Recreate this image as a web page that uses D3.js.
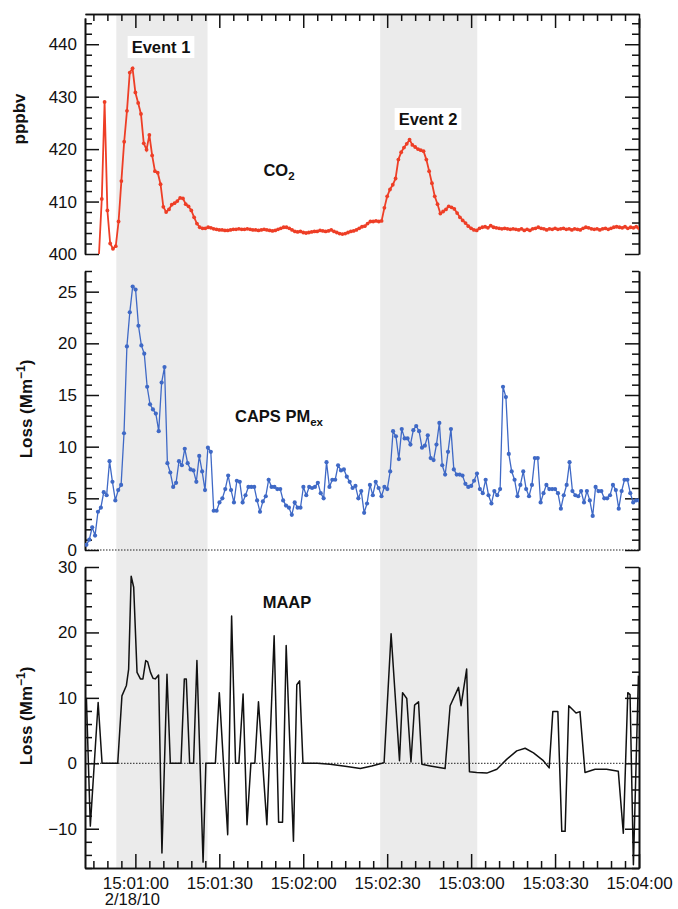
<!DOCTYPE html>
<html>
<head>
<meta charset="utf-8">
<script src="https://cdn.jsdelivr.net/npm/d3@7"></script>
<style>
    body { margin: 0; background: #fff; }
    text { font-family: "Liberation Sans", Arial, Helvetica, sans-serif; }
</style>
</head>
<body>
<div id="chart"></div>
<script>
// seconds after 15:00:00 on 2/18/10
const timeStart = 42;
const timeEnd = 240;
const majorTickSec = [60, 90, 120, 150, 180, 210, 240];
const eventSpans = [[53.2, 85.8, "Event 1"], [147.5, 182.2, "Event 2"]];

// CO2, 1 Hz samples
const co2Start = 47;
const co2Step = 1;
const co2 = [
    400, 410.5, 429, 408.3, 402, 401, 401.5, 406.2, 413.9, 421.4,
    427.3, 434.6, 435.4, 430.8, 428.8, 426.7, 421.1, 419.9, 422.7, 418.8,
    415.8, 415.5, 413.3, 409, 408, 408.5, 409.4, 409.7, 410.1, 410.7,
    410.6, 409.5, 409.1, 408.3, 407, 405.8, 405.1, 404.9, 404.9, 405.1,
    405.0, 404.8, 404.7, 404.6, 404.6, 404.5, 404.5, 404.6, 404.7, 404.7,
    404.8, 404.7, 404.7, 404.8, 404.7, 404.6, 404.6, 404.5, 404.6, 404.7,
    404.6, 404.5, 404.4, 404.5, 404.7, 404.9, 405.1, 405.1, 404.9, 404.6,
    404.3, 404.2, 404.3, 404.1, 404.0, 404.1, 404.2, 404.3, 404.3, 404.5,
    404.4, 404.3, 404.4, 404.6, 404.3, 404.1, 403.9, 403.8, 403.9, 404.1,
    404.3, 404.4, 404.6, 404.9, 405.2, 405.3, 405.8, 406.2, 406.2, 406.3,
    406.2, 406.3, 408.8, 411, 412.3, 413.2, 414.4, 418, 419.4, 420.3,
    421.0, 421.8, 420.8, 420.4, 420.0, 419.8, 419.6, 418, 415.8, 413.5,
    411, 409.5, 407.7, 408.1, 408.5, 409.1, 408.9, 408.6, 407.8, 407,
    406.4, 405.9, 405.3, 404.9, 404.6, 404.5, 404.9, 405.1, 405.2, 405.0,
    405.4, 405.1, 405.0, 404.9, 404.8, 404.9, 404.8, 404.7, 404.8, 404.7,
    404.6, 404.8, 404.5, 404.7, 404.5, 404.8, 404.9, 405.1, 404.9, 404.8,
    404.6, 404.8, 404.7, 404.9, 404.7, 404.8, 404.9, 404.7, 404.8, 404.6,
    404.8, 404.7, 404.6, 404.9, 405.1, 405.0, 404.8, 404.7, 404.8, 404.6,
    404.8, 404.9, 404.7, 404.9, 405.1, 405.2, 405.1, 405.0, 405.2, 404.9,
    405.1, 405.0, 405.2, 404.9
];

// CAPS PMex extinction loss (Mm-1)
const capsStart = 42.5;
const capsStep = 1.034;
const caps = [
    0.5, 1.0, 2.2, 1.4, 3.7, 4.1, 5.6, 5.3, 8.6, 6.6,
    4.8, 5.8, 6.3, 11.3, 19.7, 23, 25.5, 25.2, 21.7, 19.8,
    19, 15.8, 14.1, 13.6, 13.2, 11.5, 16.2, 17.7, 8.4, 7.5,
    6.1, 6.5, 8.6, 8.2, 9.8, 8.4, 7.8, 7.7, 6.6, 9.1,
    7.6, 5.8, 9.9, 9.5, 3.8, 3.8, 4.6, 5.0, 5.9, 7.2,
    5.8, 4.6, 6.7, 6.6, 4.6, 5.3, 6.1, 6.1, 6.1, 4.8,
    3.7, 4.7, 5.2, 6.8, 6.1, 6.1, 5.9, 5.9, 4.8, 4.3,
    4.1, 3.4, 4.6, 4.1, 4.1, 6.1, 5.3, 6.1, 6.0, 6.1,
    6.5, 5.5, 5.0, 8.5, 6.1, 6.8, 6.8, 8.2,
    7.7, 7.8, 7.1, 6.6, 6.0, 6.2, 5.0, 5.7, 3.6, 4.5,
    6.3, 5.3, 6.6, 6.0, 5.2, 6.1, 5.9, 7.6, 11.5, 11.0,
    8.8, 11.7, 10.8, 10.8, 10.2, 11.6, 12.0, 11.5, 9.9, 10.1,
    11.1, 8.9, 8.7, 10.2, 12.3, 8.2, 7.3, 9.5, 11.7, 7.8,
    7.3, 7.3, 7.2, 6.4, 6.1, 6.2, 6.7, 7.4, 5.9, 5.5,
    6.8, 5.3, 4.5, 5.7, 5.3, 5.9, 15.8, 14.8, 9.3, 7.6,
    6.8, 5.2, 6.3, 7.6, 5.9, 5.2, 6.3, 8.9, 8.9, 4.6,
    5.5, 6.3, 5.9, 5.9, 5.9, 5.5, 4.0, 5.3, 6.3, 8.5,
    5.7, 5.3, 5.2, 5.7, 4.6, 5.7, 4.8, 3.3, 6.1, 5.7,
    5.7, 5.0, 5.0, 5.3, 6.3, 5.8, 4.0, 5.7, 6.8, 6.8,
    5.5, 4.6, 4.8, 4.8
];

// MAAP absorption loss (Mm-1), line vertices
const maapSec = [
    42.5, 43.9, 46.7, 48.1, 53.7, 55.2, 56.8, 57.6, 58.5, 59.4,
    60.6, 61.8, 62.7, 63.7, 64.4, 65.4, 66.3, 67.1, 68.3, 69.5,
    71.3, 72.5, 76.3, 77.5, 78.2, 79.4, 80.8, 82.0, 84.2, 85.2,
    88.6, 90.0, 93.0, 94.4, 95.8, 97.0, 98.5, 99.9, 101.3, 102.7,
    104.0, 107.0, 109.6, 111.2, 112.6, 113.9, 116.5, 117.7, 118.7, 119.9,
    125.0, 129.6, 135.6, 140.4, 144.5, 148.1, 148.9, 151.4, 154.4, 155.5,
    157.0, 158.5, 159.8, 161.2, 162.4, 165.4, 170.7, 172.5, 175.5, 176.4,
    178.4, 179.4, 182.0, 185.6, 189.2, 192.7, 196.3, 199.3, 202.3, 205.8,
    207.9, 209.2, 211.0, 212.4, 213.6, 214.9, 217.5, 218.9, 220.7, 224.3,
    228.4, 232.6, 234.4, 236.0, 236.8, 238.0, 239.8
];
const maapLoss = [
    10, -9.6, 9.3, 0, 0, 10.3, 11.9, 14.4, 28.6, 26.9,
    13.9, 12.9, 12.9, 15.7, 15.5, 13.9, 13.0, 12.9, 13.5, -13.7,
    13.6, 0, 0, 12.9, 12.9, 0, 0, 15.7, -15.1, 0,
    0, 10.8, -10.9, 22.5, 0, 0, 10.6, -9.4, 0, 0,
    9.4, -9.4, 19.5, -9.0, -9.0, 18.0, -11.9, 12.0, 12.6, 0,
    0, -0.15, -0.5, -0.8, -0.4, 0, 0.1, 19.8, 0.4, 10.8,
    9.9, 0.2, 8.9, 9.4, -0.15, -0.4, -0.8, 8.8, 11.6, 8.8,
    14.4, -1.3, -1.4, -1.5, -0.9, 0.6, 1.9, 2.3, 1.6, 0.4,
    -0.7, 7.9, 7.9, -10.4, -10.4, 8.8, 7.7, 7.9, -1.4, -0.9,
    -0.9, -1.2, -10.7, 10.8, 10.5, -15.5, 13.4
];

const drawChart = id => {
    const width = 678;
    const height = 909;
    const left = 85;
    const right = 639;
    const font = '"Liberation Sans", Arial, Helvetica, sans-serif';

    const svg = d3.select(id)
        .append("svg")
        .attr("width", width)
        .attr("height", height);

    const base = new Date(2010, 1, 18, 15, 0, 0);
    const toDate = s => new Date(base.getTime() + s * 1000);

    const x = d3.scaleTime()
        .domain([toDate(timeStart), toDate(timeEnd)])
        .range([left, right]);

    const panels = [
        { name: "co2", y: d3.scaleLinear().domain([400, 445]).range([254, 18]), major: 10, minor: 2 },
        { name: "caps", y: d3.scaleLinear().domain([0, 27]).range([550, 271]), major: 5, minor: 1 },
        { name: "maap", y: d3.scaleLinear().domain([-16, 30]).range([868, 567]), major: 10, minor: 2 }
    ];
    const [pCo2, pCaps, pMaap] = panels;

    // shaded events
    svg.append("g")
        .selectAll("rect")
        .data(eventSpans)
        .join("rect")
        .attr("x", d => x(toDate(d[0])))
        .attr("width", d => x(toDate(d[1])) - x(toDate(d[0])))
        .attr("y", 14)
        .attr("height", 868 - 14)
        .attr("fill", "#ebebeb");

    // dotted zero lines
    [pCaps, pMaap].forEach(p => {
        svg.append("line")
            .attr("x1", left).attr("x2", right)
            .attr("y1", p.y(0)).attr("y2", p.y(0))
            .attr("stroke", "#222")
            .attr("stroke-width", 1)
            .attr("stroke-dasharray", "1.5,1.5");
    });

    // axes
    const styleAxis = g => {
        g.selectAll(".domain").attr("stroke", "#111").attr("stroke-width", 1.6);
        g.selectAll(".tick line").attr("stroke", "#111").attr("stroke-width", 1.5);
        g.selectAll(".tick text")
            .attr("fill", "#111")
            .style("font-family", font)
            .style("font-size", "17px");
    };

    panels.forEach(p => {
        const [lo, hi] = p.y.domain();
        const majors = d3.range(Math.ceil(lo / p.major) * p.major, hi + 0.001, p.major);
        const minors = d3.range(Math.ceil(lo / p.minor) * p.minor, hi + 0.001, p.minor)
            .filter(v => Math.abs(v / p.major - Math.round(v / p.major)) > 1e-6);

        svg.append("g")
            .attr("transform", `translate(${left},0)`)
            .call(d3.axisLeft(p.y).tickValues(majors).tickSizeInner(-14).tickSizeOuter(0).tickPadding(8).tickFormat(d3.format("d")))
            .call(styleAxis)
            .call(g => g.selectAll(".tick text").text(d => d < 0 ? "\u2212" + Math.abs(d) : d));
        svg.append("g")
            .attr("transform", `translate(${left},0)`)
            .call(d3.axisLeft(p.y).tickValues(minors).tickSizeInner(-7).tickSizeOuter(0).tickFormat(""))
            .call(styleAxis);
        svg.append("g")
            .attr("transform", `translate(${right},0)`)
            .call(d3.axisRight(p.y).tickValues(majors).tickSizeInner(-14).tickSizeOuter(0).tickFormat(""))
            .call(styleAxis);
        svg.append("g")
            .attr("transform", `translate(${right},0)`)
            .call(d3.axisRight(p.y).tickValues(minors).tickSizeInner(-7).tickSizeOuter(0).tickFormat(""))
            .call(styleAxis);
    });

    const majorDates = majorTickSec.map(toDate);
    const minorDates = d3.range(45, timeEnd + 1, 5)
        .filter(s => s % 30 !== 0)
        .map(toDate);

    [["bottom", 868], ["top", 14]].forEach(([side, yPos]) => {
        const axisFn = side === "bottom" ? d3.axisBottom : d3.axisTop;
        svg.append("g")
            .attr("transform", `translate(0,${yPos})`)
            .call(axisFn(x).tickValues(majorDates).tickSizeInner(-14).tickSizeOuter(0).tickPadding(9)
                .tickFormat(side === "bottom" ? d3.timeFormat("%H:%M:%S") : ""))
            .call(styleAxis);
        svg.append("g")
            .attr("transform", `translate(0,${yPos})`)
            .call(axisFn(x).tickValues(minorDates).tickSizeInner(-7).tickSizeOuter(0).tickFormat(""))
            .call(styleAxis);
    });

    svg.append("text")
        .attr("x", x(toDate(60)) - 3)
        .attr("y", 905)
        .attr("text-anchor", "middle")
        .attr("fill", "#111")
        .style("font-size", "16.5px")
        .text("2/18/10");

    // clip to the plot area
    svg.append("clipPath")
        .attr("id", "plot-clip")
        .append("rect")
        .attr("x", left)
        .attr("y", 14)
        .attr("width", right - left)
        .attr("height", 868 - 14);

    const plot = svg.append("g").attr("clip-path", "url(#plot-clip)");

    // CO2
    const co2Pts = co2.map((v, i) => [toDate(co2Start + i * co2Step), v]);
    const co2Color = "#ee3e26";
    plot.append("path")
        .datum(co2Pts)
        .attr("fill", "none")
        .attr("stroke", co2Color)
        .attr("stroke-width", 1.8)
        .attr("d", d3.line().x(d => x(d[0])).y(d => pCo2.y(d[1])));
    plot.append("g")
        .selectAll("circle")
        .data(co2Pts.slice(1))
        .join("circle")
        .attr("cx", d => x(d[0]))
        .attr("cy", d => pCo2.y(d[1]))
        .attr("r", 1.9)
        .attr("fill", co2Color);

    // CAPS
    const capsPts = caps.map((v, i) => [toDate(capsStart + i * capsStep), v]);
    const capsColor = "#3f69c6";
    plot.append("path")
        .datum(capsPts)
        .attr("fill", "none")
        .attr("stroke", capsColor)
        .attr("stroke-width", 1.3)
        .attr("d", d3.line().x(d => x(d[0])).y(d => pCaps.y(d[1])));
    plot.append("g")
        .selectAll("circle")
        .data(capsPts)
        .join("circle")
        .attr("cx", d => x(d[0]))
        .attr("cy", d => pCaps.y(d[1]))
        .attr("r", 2.1)
        .attr("fill", capsColor);

    // MAAP
    const maapPts = maapSec.map((s, i) => [toDate(s), maapLoss[i]]);
    plot.append("path")
        .datum(maapPts)
        .attr("fill", "none")
        .attr("stroke", "#111")
        .attr("stroke-width", 1.5)
        .attr("stroke-linejoin", "round")
        .attr("d", d3.line().x(d => x(d[0])).y(d => pMaap.y(d[1])));

    // event labels with white boxes
    const eventY = [53, 125];
    eventSpans.forEach((e, i) => {
        const cx = i === 0 ? 161 : 428;
        const g = svg.append("g");
        const t = g.append("text")
            .attr("x", cx)
            .attr("y", eventY[i])
            .attr("text-anchor", "middle")
            .attr("fill", "#111")
            .style("font-size", "16.5px")
            .style("font-weight", "bold")
            .text(e[2]);
        const b = t.node().getBBox();
        g.insert("rect", "text")
            .attr("x", b.x - 4)
            .attr("y", b.y - 2)
            .attr("width", b.width + 8)
            .attr("height", b.height + 4)
            .attr("fill", "#fff");
    });

    // series names
    const label = (xPos, yPos, main, sub, anchor) => {
        const t = svg.append("text")
            .attr("x", xPos)
            .attr("y", yPos)
            .attr("text-anchor", anchor)
            .attr("fill", "#111")
            .style("font-size", "16.5px")
            .style("font-weight", "bold");
        t.append("tspan").text(main);
        if (sub) {
            t.append("tspan").attr("dy", 4).style("font-size", "11.5px").text(sub);
        }
    };
    label(279, 176, "CO", "2", "middle");
    label(235, 422, "CAPS PM", "ex", "start");
    label(287, 608, "MAAP", null, "middle");

    // y titles
    const yTitle = (xPos, yPos, parts) => {
        const t = svg.append("text")
            .attr("transform", `translate(${xPos},${yPos}) rotate(-90)`)
            .attr("text-anchor", "middle")
            .attr("fill", "#111")
            .style("font-size", "17px")
            .style("font-weight", "bold");
        parts.forEach(p => {
            const s = t.append("tspan").text(p.text);
            if (p.sup) s.attr("dy", -7).style("font-size", "12px");
            if (p.after) s.attr("dy", 7);
        });
    };
    yTitle(25, 119, [{ text: "pppbv" }]);
    yTitle(32, 409, [{ text: "Loss (Mm" }, { text: "\u22121", sup: true }, { text: ")", after: true }]);
    yTitle(32, 716, [{ text: "Loss (Mm" }, { text: "\u22121", sup: true }, { text: ")", after: true }]);
};

drawChart("#chart");
</script>
</body>
</html>
